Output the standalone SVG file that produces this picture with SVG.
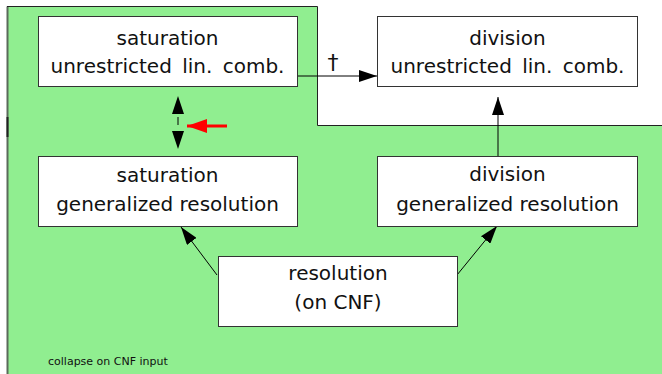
<svg xmlns="http://www.w3.org/2000/svg" width="662" height="374" viewBox="0 0 662 374">
<style>
.box{fill:#fff;stroke:#333;stroke-width:1}
.t{font-family:"DejaVu Sans",sans-serif;font-size:20px;fill:#111;text-anchor:middle}
.ws{word-spacing:4px}
.c{fill:none;stroke:#000;stroke-width:1}
.small{font-family:"DejaVu Sans",sans-serif;font-size:11px;fill:#111}
</style>
<defs>
<marker id="ah" markerUnits="userSpaceOnUse" markerWidth="18" markerHeight="12" refX="18" refY="6" orient="auto-start-reverse">
<path d="M0,0 L18,6 L0,12 z" fill="#000"/>
</marker>
<marker id="ahr" markerUnits="userSpaceOnUse" markerWidth="20" markerHeight="14" refX="20" refY="7" orient="auto">
<path d="M0,0 L20,7 L0,14 z" fill="#f00"/>
</marker>
</defs>
<rect width="662" height="374" fill="#fff"/>
<g id="region">
<path d="M7.5,374 L7.5,6.5 L317.5,6.5 L317.5,125.5 L662,125.5 L662,374 z" fill="#90ee90"/>
<path d="M7.5,374 L7.5,6.5" fill="none" stroke="#5b6b5b" stroke-width="2"/>
<path d="M7,6.5 L317.5,6.5 L317.5,125.5 L662,125.5" fill="none" stroke="#222" stroke-width="1"/>
<path d="M7.5,117 L7.5,137" stroke="#222" stroke-width="2"/>
<text class="small" x="48" y="365">collapse on CNF input</text>
</g>
<g id="connectors">
<path class="c" d="M297,76 L377,76" marker-end="url(#ah)"/>
<text class="t" x="333" y="70" style="font-size:22px">†</text>
<path class="c" d="M498,156 L498,97" marker-end="url(#ah)"/>
<path class="c" d="M217,275 L181,227" marker-end="url(#ah)"/>
<path class="c" d="M457,275 L497,226" marker-end="url(#ah)"/>
<path class="c" d="M178,96 L178,149" stroke-dasharray="0 21 8 100" marker-start="url(#ah)" marker-end="url(#ah)"/>
</g>
<g id="annotation">
<path d="M227,126 L187,126" stroke="#f00" stroke-width="3" fill="none" marker-end="url(#ahr)"/>
</g>
<g id="sat-unres">
<rect class="box" x="38.5" y="16.5" width="259" height="70"/>
<text class="t" x="167.5" y="45">saturation</text>
<text class="t ws" x="167.5" y="73">unrestricted lin. comb.</text>
</g>
<g id="div-unres">
<rect class="box" x="377.5" y="16.5" width="260" height="70"/>
<text class="t" x="507.5" y="45">division</text>
<text class="t ws" x="507.5" y="73">unrestricted lin. comb.</text>
</g>
<g id="sat-gen">
<rect class="box" x="38.5" y="156.5" width="259" height="70"/>
<text class="t" x="167.5" y="182">saturation</text>
<text class="t" x="167.5" y="211">generalized resolution</text>
</g>
<g id="div-gen">
<rect class="box" x="377.5" y="156.5" width="260" height="70"/>
<text class="t" x="507.5" y="181">division</text>
<text class="t" x="507.5" y="211">generalized resolution</text>
</g>
<g id="resolution">
<rect class="box" x="218.5" y="256.5" width="239" height="70"/>
<text class="t" x="338" y="280">resolution</text>
<text class="t" x="338" y="309">(on CNF)</text>
</g>
</svg>
